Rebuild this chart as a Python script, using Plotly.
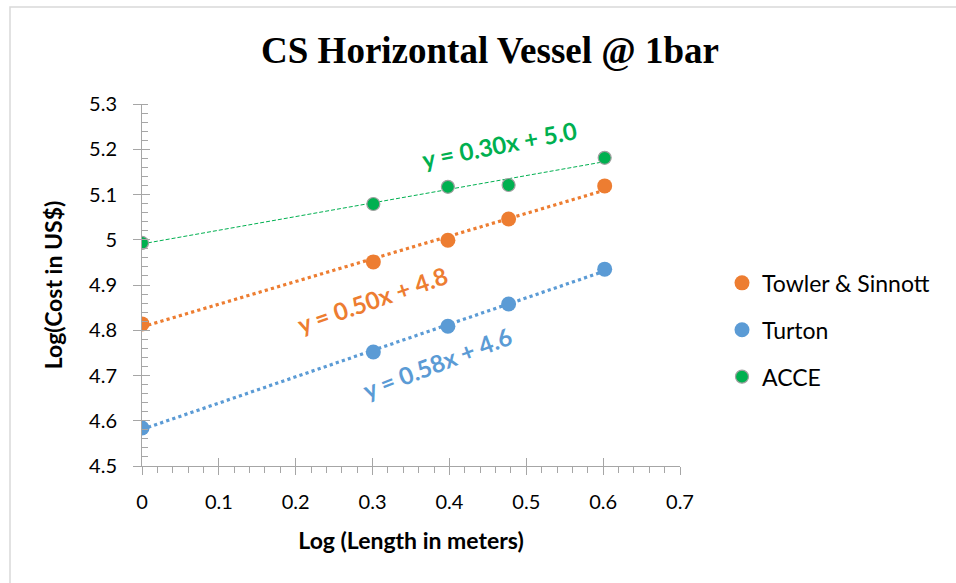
import numpy as np
import plotly.graph_objects as go

# ---- data ----
log_length = [0.0, 0.301, 0.398, 0.477, 0.602]
towler = [4.814, 4.951, 4.999, 5.046, 5.119]
turton = [4.584, 4.752, 4.809, 4.858, 4.935]
acce = [4.993, 5.079, 5.117, 5.121, 5.181]
series_names = ["Towler & Sinnott", "Turton", "ACCE"]
eq_labels = ["y = 0.50x + 4.8", "y = 0.58x + 4.6", "y = 0.30x + 5.0"]

ORANGE = "#ED7D31"
BLUE = "#5B9BD5"
GREEN = "#00B050"
FONT = "Lato"

fig = go.Figure()

x_arr = np.array(log_length)
x_fit = np.array([0.0, max(log_length)])

def trend(yvals):
    m, b = np.polyfit(x_arr, np.array(yvals), 1)
    return m * x_fit + b

# trendlines
fig.add_trace(go.Scatter(x=x_fit, y=trend(towler), mode="lines",
                         line=dict(color=ORANGE, width=3.2, dash="dot"),
                         showlegend=False, hoverinfo="skip"))
fig.add_trace(go.Scatter(x=x_fit, y=trend(turton), mode="lines",
                         line=dict(color=BLUE, width=3.2, dash="dot"),
                         showlegend=False, hoverinfo="skip"))
fig.add_trace(go.Scatter(x=x_fit, y=trend(acce), mode="lines",
                         line=dict(color=GREEN, width=1, dash="4px,2px"),
                         showlegend=False, hoverinfo="skip"))

# markers
fig.add_trace(go.Scatter(x=log_length, y=towler, mode="markers", name=series_names[0],
                         legendgroup="a",
                         marker=dict(color=ORANGE, size=15, line=dict(width=0))))
fig.add_trace(go.Scatter(x=log_length, y=turton, mode="markers", name=series_names[1],
                         legendgroup="b",
                         marker=dict(color=BLUE, size=15, line=dict(width=0))))
fig.add_trace(go.Scatter(x=log_length, y=acce, mode="markers", name=series_names[2],
                         legendgroup="c",
                         marker=dict(color=GREEN, size=13, line=dict(width=1.2, color="#A0A0A0"))))

# invisible trace on overlay axes (for crossing ticks)
fig.add_trace(go.Scatter(x=[0], y=[4.5], xaxis="x2", yaxis="y2", mode="markers",
                         marker=dict(opacity=0), showlegend=False, hoverinfo="skip"))

AX = "#A6A6A6"
fig.update_layout(
    width=956, height=583,
    paper_bgcolor="white", plot_bgcolor="white",
    margin=dict(l=142, r=276, t=104, b=117),
    font=dict(family=FONT, color="black"),
    title=dict(text="<b>CS Horizontal Vessel @ 1bar</b>",
               font=dict(family="Liberation Serif", size=37, color="black"),
               x=490 / 956, xanchor="center", xref="container", y=0.915, yanchor="middle"),
    xaxis=dict(range=[0, 0.7], dtick=0.1, tick0=0, showgrid=False, zeroline=False,
               showline=True, linecolor=AX, linewidth=1,
               ticks="outside", ticklen=8, tickcolor=AX, tickwidth=1,
               minor=dict(ticks="outside", ticklen=6, dtick=0.02, tickcolor=AX, showgrid=False),
               tickfont=dict(size=20, family=FONT, color="black"),
               ticklabelstandoff=10,
               title=dict(text="<b>Log (Length in meters)</b>",
                          font=dict(size=23, family=FONT, color="black"), standoff=20)),
    yaxis=dict(range=[4.5, 5.3], dtick=0.1, tick0=4.5, showgrid=False, zeroline=False,
               showline=True, linecolor=AX, linewidth=1,
               ticks="outside", ticklen=8, tickcolor=AX, tickwidth=1,
               minor=dict(ticks="inside", ticklen=6, dtick=0.02, tickcolor=AX, showgrid=False),
               tickfont=dict(size=20, family=FONT, color="black"),
               ticklabelstandoff=12,
               title=dict(text="<b>Log(Cost in US$)</b>",
                          font=dict(size=23, family=FONT, color="black"), standoff=20)),
    xaxis2=dict(overlaying="x", matches="x", anchor="y", side="bottom", showgrid=False,
                zeroline=False, showline=False, ticks="inside", ticklen=8, tickcolor=AX,
                dtick=0.1, tick0=0, showticklabels=False),
    yaxis2=dict(overlaying="y", matches="y", anchor="x", side="left", showgrid=False,
                zeroline=False, showline=False, ticks="inside", ticklen=8, tickcolor=AX,
                dtick=0.1, tick0=4.5, showticklabels=False),
    legend=dict(x=(722 - 142) / 538, xanchor="left", y=0.376, yanchor="middle",
                font=dict(size=23, family=FONT, color="black"),
                traceorder="grouped", tracegroupgap=14, itemwidth=30,
                bgcolor="rgba(0,0,0,0)"),
    showlegend=True,
)

# equation labels
fig.add_annotation(x=0.300, y=4.868, xref="x", yref="y", text="<b>" + eq_labels[0] + "</b>",
                   showarrow=False, textangle=-19,
                   font=dict(size=24, family=FONT, color=ORANGE))
fig.add_annotation(x=0.385, y=4.728, xref="x", yref="y", text="<b>" + eq_labels[1] + "</b>",
                   showarrow=False, textangle=-21,
                   font=dict(size=24, family=FONT, color=BLUE))
fig.add_annotation(x=0.465, y=5.21, xref="x", yref="y", text="<b>" + eq_labels[2] + "</b>",
                   showarrow=False, textangle=-11,
                   font=dict(size=24, family=FONT, color=GREEN))

# chart border (light grey frame)
fig.add_shape(type="rect", xref="paper", yref="paper",
              x0=(10 - 142) / 538, x1=(970 - 142) / 538,
              y0=(466 - 600) / 362, y1=1 + (104 - 7) / 362,
              line=dict(color="#D9D9D9", width=1.5), fillcolor="rgba(0,0,0,0)", layer="below")

fig.write_html("out.html")
